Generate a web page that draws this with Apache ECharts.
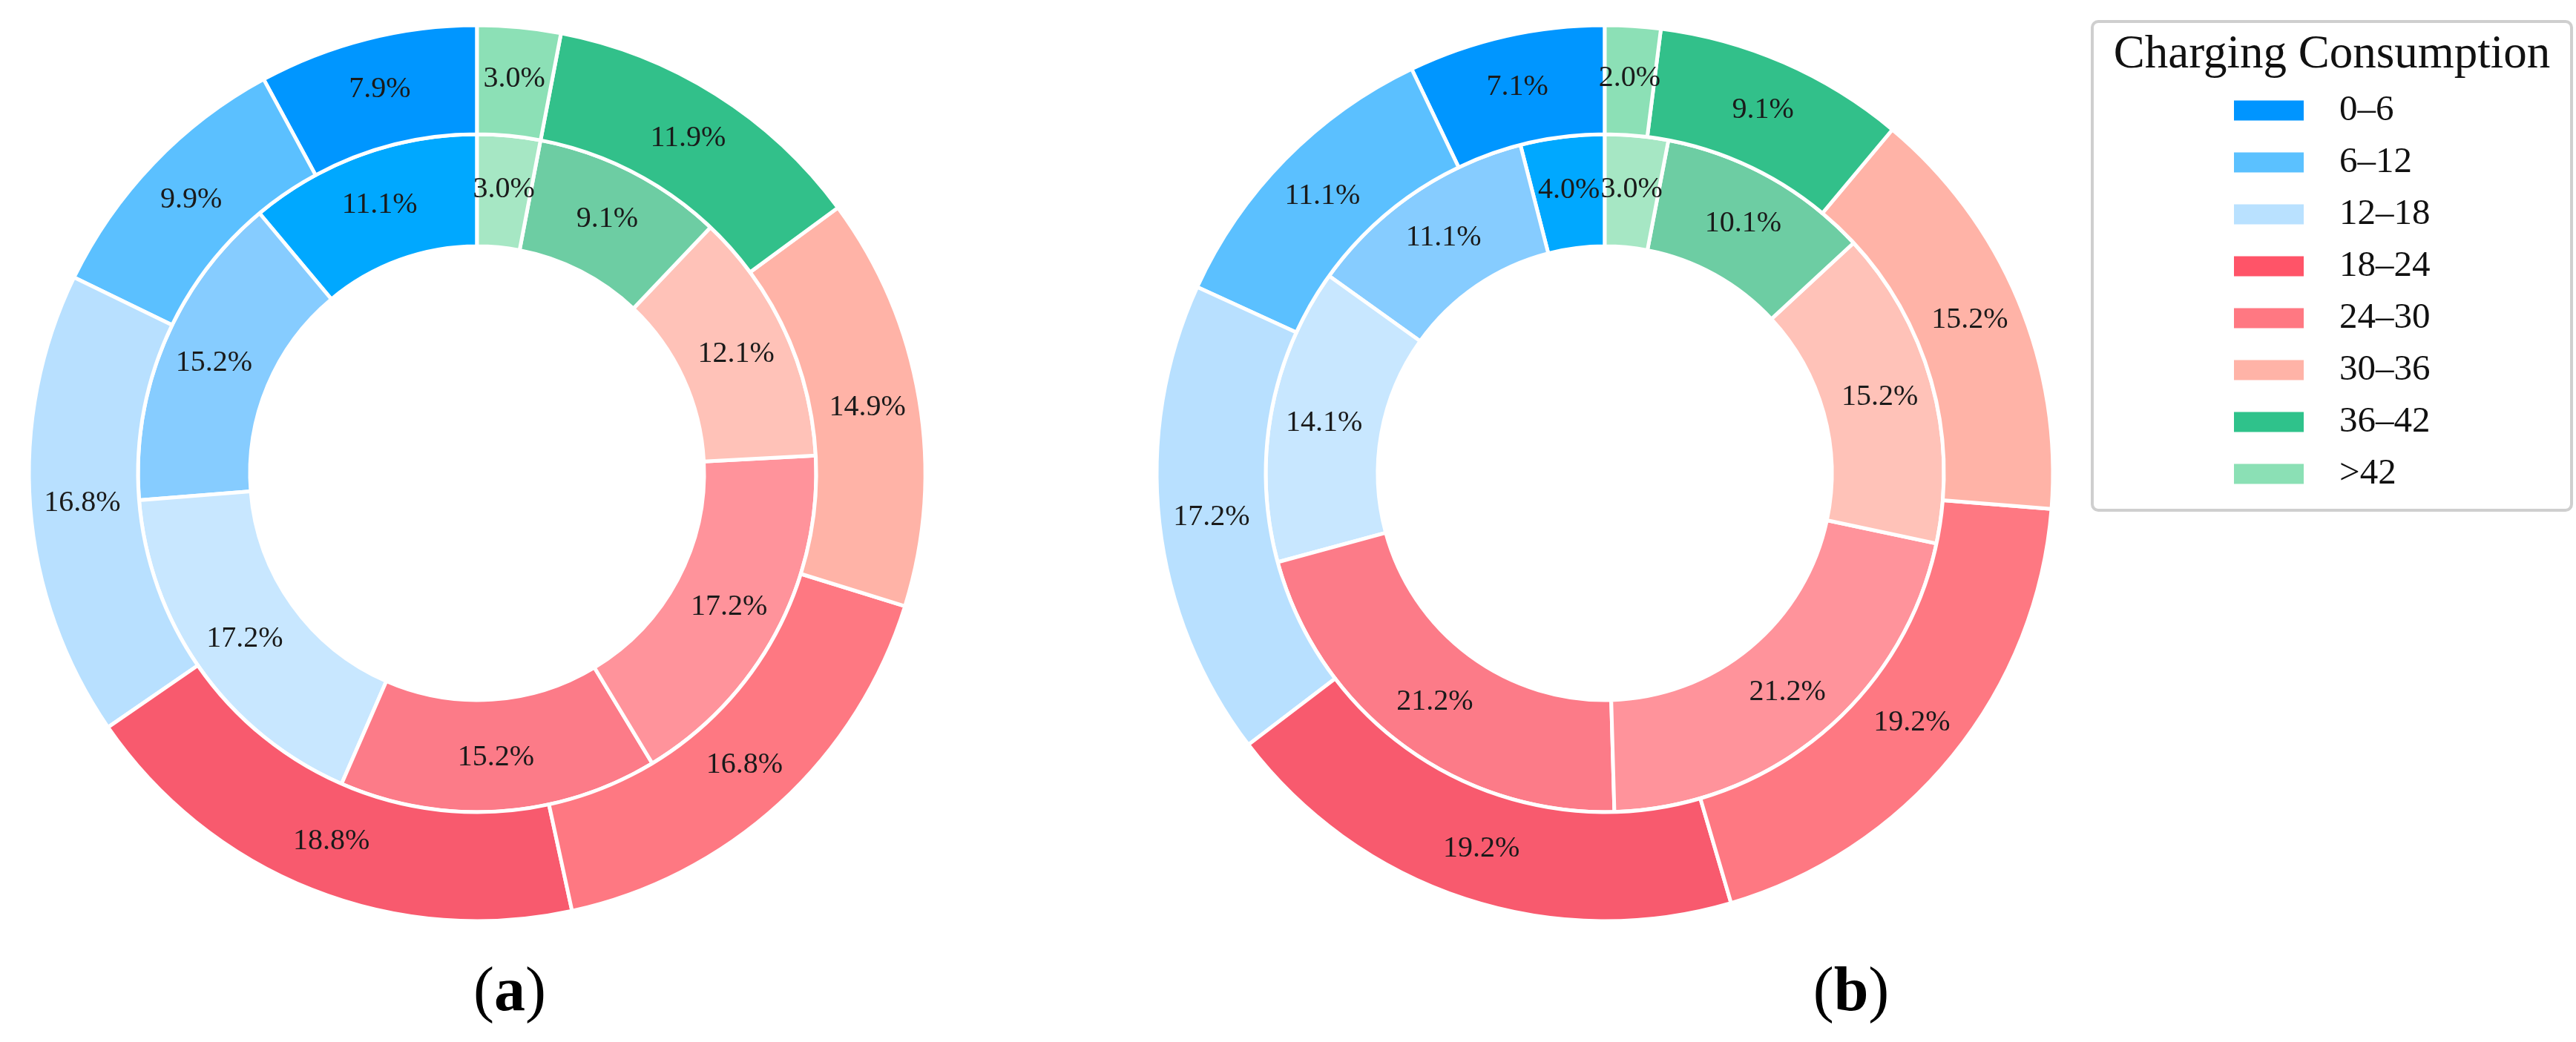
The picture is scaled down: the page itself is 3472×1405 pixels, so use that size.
<!DOCTYPE html>
<html>
<head>
<meta charset="utf-8">
<script src="https://cdn.jsdelivr.net/npm/echarts@6/dist/echarts.min.js"></script>
<style>
html,body{margin:0;padding:0;background:#fff;}
#chart{width:3472px;height:1405px;}
</style>
</head>
<body>
<div id="chart"></div>
<script>
const categories = ['0–6', '6–12', '12–18', '18–24', '24–30', '30–36', '36–42', '>42'];
const innerA = [11.1, 15.2, 17.2, 15.2, 17.2, 12.1, 9.1, 3.0];
const outerA = [7.9, 9.9, 16.8, 18.8, 16.8, 14.9, 11.9, 3.0];
const innerB = [4.0, 11.1, 14.1, 21.2, 21.2, 15.2, 10.1, 3.0];
const outerB = [7.1, 11.1, 17.2, 19.2, 19.2, 15.2, 9.1, 2.0];
const legendTitle = 'Charging Consumption';
const captions = ['a', 'b'];

const outerColors = ['#0096FF', '#5BC0FF', '#B8E0FF', '#F85A6E', '#FE7882', '#FFB3A7', '#32C08A', '#8CE0B6'];
const innerColors = ['#00A8FF', '#86CCFF', '#C8E7FF', '#FC7B88', '#FF939B', '#FFC2B8', '#6DCDA3', '#A6E7C4'];
const legendColors = ['#0095FF', '#5BC1FF', '#B9E1FF', '#FF5468', '#FF7882', '#FFB3A7', '#2FC28B', '#8BE0B5'];

const FONT = '"Liberation Serif", "Times New Roman", serif';

function ring(values, colors, center, radius) {
  return {
    type: 'pie',
    center: center,
    radius: radius,
    startAngle: 90,
    clockwise: false,
    avoidLabelOverlap: false,
    silent: true,
    itemStyle: { borderColor: '#ffffff', borderWidth: 5 },
    label: {
      show: true,
      position: 'inside',
      formatter: p => p.value.toFixed(1) + '%',
      fontFamily: FONT,
      fontSize: 40,
      color: '#1a1a1a'
    },
    labelLine: { show: false },
    emphasis: { disabled: true },
    data: categories.map((c, i) => ({ name: c, value: values[i], itemStyle: { color: colors[i] } }))
  };
}

const chart = echarts.init(document.getElementById('chart'), null, { renderer: 'canvas' });
const cA = [643, 638], cB = [2163, 638];
const rIn = [306, 457], rOut = [457, 604];

chart.setOption({
  backgroundColor: '#ffffff',
  animation: false,
  legend: {
    orient: 'vertical',
    left: 3009,
    top: 124,
    padding: 0,
    itemWidth: 96,
    itemHeight: 29,
    itemGap: 20,
    icon: 'rect',
    selectedMode: false,
    textStyle: { fontFamily: FONT, fontSize: 49, lineHeight: 50, color: '#111', padding: [0, 0, 0, 42] },
    data: categories.map((c, i) => ({ name: c, itemStyle: { color: legendColors[i] } }))
  },
  graphic: [
    {
      type: 'rect',
      shape: { x: 2820, y: 29, width: 646, height: 659, r: 8 },
      style: { fill: 'none', stroke: '#cfcfcf', lineWidth: 4 },
      z: 0
    },
    {
      type: 'text',
      x: 3143, y: 74,
      style: { text: legendTitle, font: '63px ' + FONT, fill: '#111', textAlign: 'center', textVerticalAlign: 'middle' }
    },
    {
      type: 'text',
      x: 687, y: 1340,
      style: {
        text: '{p|(}{b|' + captions[0] + '}{p|)}',
        textAlign: 'center', textVerticalAlign: 'middle',
        rich: {
          p: { fontFamily: FONT, fontSize: 84, fill: '#000' },
          b: { fontFamily: FONT, fontSize: 84, fontWeight: 'bold', fill: '#000' }
        }
      }
    },
    {
      type: 'text',
      x: 2495, y: 1340,
      style: {
        text: '{p|(}{b|' + captions[1] + '}{p|)}',
        textAlign: 'center', textVerticalAlign: 'middle',
        rich: {
          p: { fontFamily: FONT, fontSize: 84, fill: '#000' },
          b: { fontFamily: FONT, fontSize: 84, fontWeight: 'bold', fill: '#000' }
        }
      }
    }
  ],
  series: [
    ring(innerA, innerColors, cA, rIn),
    ring(outerA, outerColors, cA, rOut),
    ring(innerB, innerColors, cB, rIn),
    ring(outerB, outerColors, cB, rOut)
  ]
});
</script>
</body>
</html>
